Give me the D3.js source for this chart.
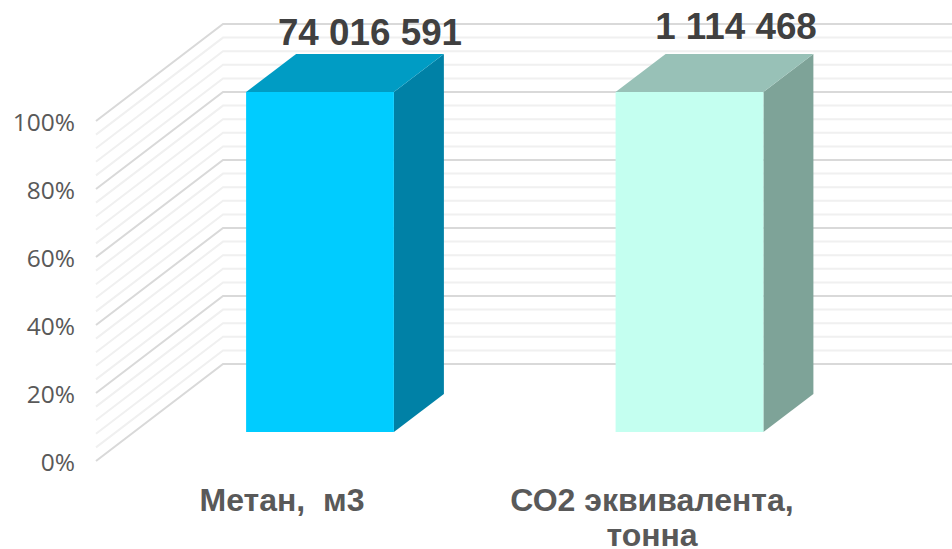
<!DOCTYPE html>
<html><head><meta charset="utf-8">
<style>html,body{margin:0;padding:0;background:#fff}svg{display:block}</style>
<script src="https://cdn.jsdelivr.net/npm/d3@7"></script>
</head><body><div id="c"></div>
<script>
const categories = ["Метан,  м3", "СО2 эквивалента,"];
const categoryLine2 = ["", "тонна"];
const percentValues = [100, 100];
const valueLabels = ["74 016 591", "1 114 468"];
const frontColors = ["#00CCFF", "#C4FFF0"];
const topColors = ["#009CC4", "#98C1B7"];
const sideColors = ["#0081A6", "#7EA398"];
const yTicks = [0, 20, 40, 60, 80, 100];
const gridSteps = d3.range(0, 101, 4);

const W = 952, H = 549;
const svg = d3.select("#c").append("svg").attr("width", W).attr("height", H);

// back wall y scale; floor projection
const y = d3.scaleLinear().domain([0, 100]).range([364, 24]);
const wallLeft = 223, floorLeft = 96, floorDrop = 97;
const x = d3.scaleBand().domain(categories).range([135.25, 874.25]);
const barW = x.bandwidth() * 0.4;
const barDX = 50, barDY = 38, barFrontDrop = 68;

// gridlines
const grid = svg.append("g").attr("fill", "none");
grid.selectAll("path").data(gridSteps.slice().sort((a, b) => (a % 20 === 0) - (b % 20 === 0))).join("path")
  .attr("d", d => d3.line()([[floorLeft, y(d) + floorDrop], [wallLeft, y(d)], [W, y(d)]]))
  .attr("stroke", d => d % 20 === 0 ? "#d9d9d9" : "#f0f0f0")
  .attr("stroke-width", 2);

// axis labels
const axis = d3.axisLeft(d3.scaleLinear().domain([0, 100]).range([y(0) + floorDrop, y(100) + floorDrop]))
  .tickValues(yTicks).tickFormat(d => d + "%").tickSize(0).tickPadding(0);
const ag = svg.append("g").attr("transform", `translate(75,1.5)`).call(axis);
ag.select(".domain").remove();
ag.selectAll("text").attr("font-family", "'Open Sans', sans-serif").attr("font-size", 24.5).attr("fill", "#595959");

// bars
const bars = svg.append("g").selectAll("g").data(categories).join("g");
const bx = d => x(d) + x.bandwidth() / 2 - barW / 2;
const fy = i => y(percentValues[i]) + barFrontDrop;
const by = y(0) + barFrontDrop;
bars.append("path").attr("fill", (d, i) => sideColors[i]).attr("d", (d, i) => {
  const r = bx(d) + barW;
  return d3.line()([[r, fy(i)], [r + barDX, fy(i) - barDY], [r + barDX, by - barDY], [r, by]]) + "Z";
});
bars.append("path").attr("fill", (d, i) => topColors[i]).attr("d", (d, i) => {
  const l = bx(d), r = l + barW;
  return d3.line()([[l, fy(i)], [l + barDX, fy(i) - barDY], [r + barDX, fy(i) - barDY], [r, fy(i)]]) + "Z";
});
bars.append("rect").attr("fill", (d, i) => frontColors[i])
  .attr("x", bx).attr("width", barW)
  .attr("y", (d, i) => fy(i)).attr("height", (d, i) => by - fy(i));

// value labels
const labelFont = "'Liberation Sans', Arial, sans-serif";
const center = d => x(d) + x.bandwidth() / 2;
const valueShiftX = [50, 46.5], valueBaseline = [45, 39];
svg.append("g").selectAll("text").data(valueLabels).join("text")
  .attr("x", (d, i) => center(categories[i]) + valueShiftX[i])
  .attr("y", (d, i) => valueBaseline[i])
  .attr("text-anchor", "middle").attr("font-family", labelFont).attr("font-weight", 700)
  .attr("font-size", 36.8).attr("fill", "#404040").text(d => d);

// category labels
const catShiftX = [-38, -37.5];
const cat = svg.append("g").attr("font-family", labelFont).attr("font-weight", 700)
  .attr("font-size", 32).attr("fill", "#595959").attr("text-anchor", "middle");
cat.selectAll("text.l1").data(categories).join("text").attr("class", "l1")
  .style("white-space", "pre")
  .attr("x", (d, i) => center(d) + catShiftX[i]).attr("y", 511).text(d => d);
cat.selectAll("text.l2").data(categoryLine2).join("text").attr("class", "l2")
  .attr("x", (d, i) => center(categories[i]) + catShiftX[i]).attr("y", 546).text(d => d);
</script></body></html>
